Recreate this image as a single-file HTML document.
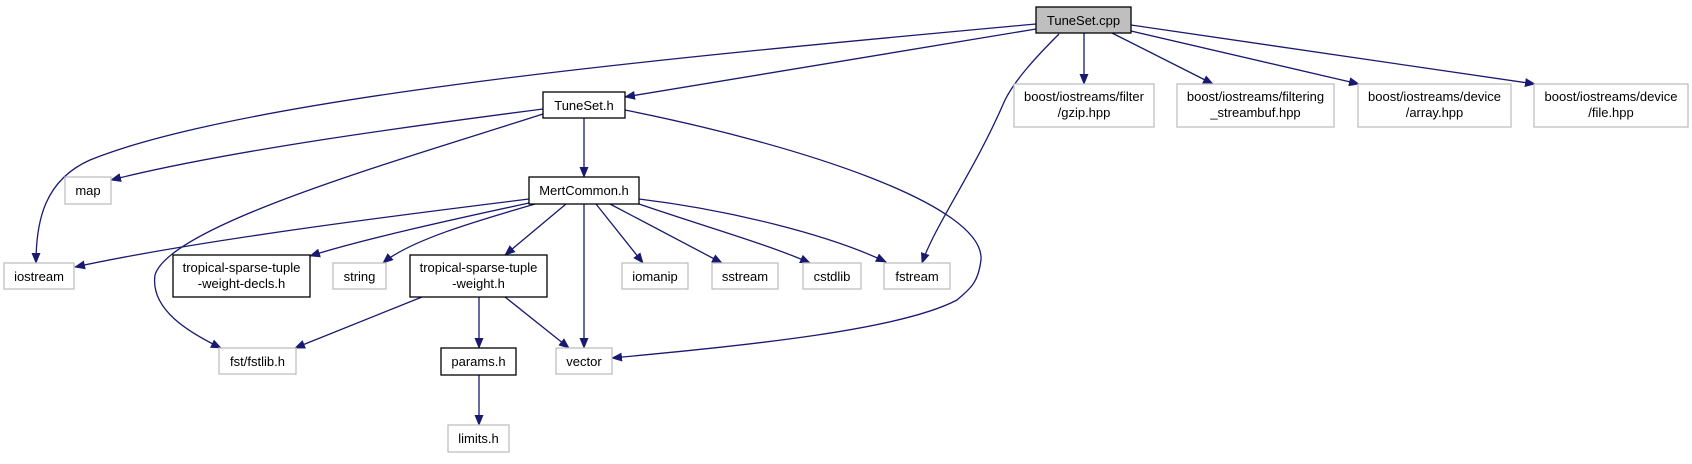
<!DOCTYPE html>
<html><head><meta charset="utf-8"><style>
html,body{margin:0;padding:0;background:#fff;}
svg text{font-family:"Liberation Sans",Helvetica,sans-serif;font-size:13px;fill:#000;text-anchor:middle;}
.e{fill:none;stroke:#191970;stroke-width:1.3;}
.k{fill:#fff;stroke:#000;stroke-width:1.3;}
.g{fill:#fff;stroke:#bfbfbf;stroke-width:1.3;}
</style></head><body>
<svg width="1692" height="459" viewBox="0 0 1692 459" xmlns="http://www.w3.org/2000/svg">
<defs><marker id="a" markerWidth="11" markerHeight="9" refX="10" refY="4.5" orient="auto" markerUnits="userSpaceOnUse"><path d="M0,0 L11,4.5 L0,9 z" fill="#191970"/></marker></defs>
<g marker-end="url(#a)">
<!-- from TuneSet.cpp -->
<path class="e" d="M1036,24 C700,55 250,95 90,160 C45,180 36,220 36,263"/>
<path class="e" d="M1036,29 L625,97"/>
<path class="e" d="M1059,34 C1035,58 1015,80 1005,100 C975,170 935,225 922,263"/>
<path class="e" d="M1084,33 L1084,84"/>
<path class="e" d="M1112,33 L1213,84"/>
<path class="e" d="M1131,31 L1359,84"/>
<path class="e" d="M1131,25 L1535,84"/>
<!-- from TuneSet.h -->
<path class="e" d="M543,109 C420,125 230,150 111,180"/>
<path class="e" d="M543,114 C400,160 170,225 155,275 C150,310 190,333 221,348"/>
<path class="e" d="M584,118 L584,177"/>
<path class="e" d="M625,110 C800,145 985,205 981,260 C978,285 968,290 957,300 C900,330 750,345 612,358"/>
<!-- from MertCommon.h -->
<path class="e" d="M529,199 C400,215 200,240 75,267"/>
<path class="e" d="M529,203 C450,220 360,240 310,256"/>
<path class="e" d="M535,204 C480,220 410,240 383,263"/>
<path class="e" d="M566,204 L505,255"/>
<path class="e" d="M584,204 L584,348"/>
<path class="e" d="M596,204 L643,263"/>
<path class="e" d="M610,204 L722,263"/>
<path class="e" d="M639,204 C700,225 770,245 810,263"/>
<path class="e" d="M639,199 C730,210 830,235 886,262"/>
<!-- from tropical-sparse-tuple-weight.h -->
<path class="e" d="M422,297 L295,348"/>
<path class="e" d="M479,297 L479,348"/>
<path class="e" d="M505,297 L569,348"/>
<path class="e" d="M479,375 L479,425"/>
</g>
<!-- nodes -->
<rect x="1036" y="7" width="95" height="26" fill="#bfbfbf" stroke="#000" stroke-width="1.3"/><text x="1083.5" y="25">TuneSet.cpp</text>
<rect class="k" x="543" y="92" width="82" height="26"/><text x="584" y="110">TuneSet.h</text>
<rect class="g" x="1014" y="84" width="140" height="43"/><text x="1084" y="101">boost/iostreams/filter</text><text x="1084" y="117">/gzip.hpp</text>
<rect class="g" x="1177" y="84" width="157" height="43"/><text x="1255.5" y="101">boost/iostreams/filtering</text><text x="1255.5" y="117">_streambuf.hpp</text>
<rect class="g" x="1358" y="84" width="153" height="43"/><text x="1434.5" y="101">boost/iostreams/device</text><text x="1434.5" y="117">/array.hpp</text>
<rect class="g" x="1534" y="84" width="154" height="43"/><text x="1611" y="101">boost/iostreams/device</text><text x="1611" y="117">/file.hpp</text>
<rect class="g" x="65" y="177" width="46" height="27"/><text x="88" y="195">map</text>
<rect class="k" x="529" y="177" width="110" height="27"/><text x="584" y="195">MertCommon.h</text>
<rect class="g" x="4" y="263" width="70" height="26"/><text x="39" y="281">iostream</text>
<rect class="k" x="173" y="255" width="137" height="42"/><text x="241.5" y="272">tropical-sparse-tuple</text><text x="241.5" y="288">-weight-decls.h</text>
<rect class="g" x="333" y="263" width="53" height="26"/><text x="359.5" y="281">string</text>
<rect class="k" x="410" y="255" width="137" height="42"/><text x="478.5" y="272">tropical-sparse-tuple</text><text x="478.5" y="288">-weight.h</text>
<rect class="g" x="622" y="263" width="66" height="26"/><text x="655" y="281">iomanip</text>
<rect class="g" x="712" y="263" width="66" height="26"/><text x="745" y="281">sstream</text>
<rect class="g" x="803" y="263" width="58" height="26"/><text x="832" y="281">cstdlib</text>
<rect class="g" x="884" y="263" width="66" height="26"/><text x="917" y="281">fstream</text>
<rect class="g" x="219" y="348" width="77" height="26"/><text x="257.5" y="366">fst/fstlib.h</text>
<rect class="k" x="441" y="348" width="75" height="27"/><text x="478.5" y="366">params.h</text>
<rect class="g" x="556" y="348" width="56" height="26"/><text x="584" y="366">vector</text>
<rect class="g" x="448" y="425" width="61" height="27"/><text x="478.5" y="443">limits.h</text>
</svg>
</body></html>
